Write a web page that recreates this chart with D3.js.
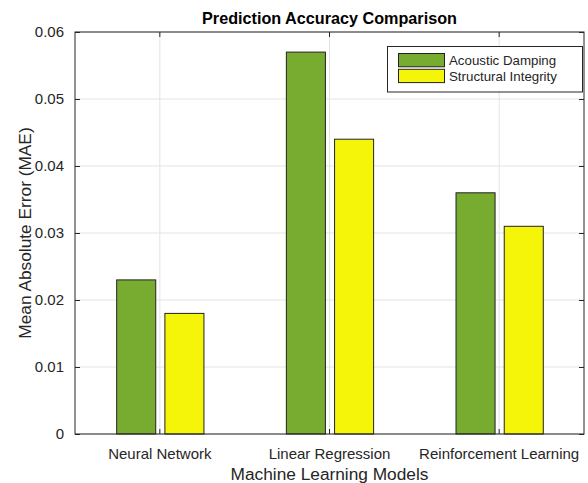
<!DOCTYPE html>
<html>
<head>
<meta charset="utf-8">
<script src="https://cdn.jsdelivr.net/npm/d3@7"></script>
<style>
  body { margin: 0; background: #fff; }
  text { font-family: "Liberation Sans", Arial, sans-serif; fill: #262626; }
</style>
</head>
<body>
<div id="chart"></div>
<script>
// data
const categories = ["Neural Network", "Linear Regression", "Reinforcement Learning"];
const seriesNames = ["Acoustic Damping", "Structural Integrity"];
const acousticDamping = [0.023, 0.057, 0.036];
const structuralIntegrity = [0.018, 0.044, 0.031];
const yTicks = [0, 0.01, 0.02, 0.03, 0.04, 0.05, 0.06];
const colors = ["#77ac30", "#f5f50a"];

const width = 588, height = 483;
const margin = { left: 75, right: 4, top: 32, bottom: 49 };
const innerW = width - margin.left - margin.right;
const innerH = height - margin.top - margin.bottom;

const svg = d3.select("#chart").append("svg")
  .attr("width", width)
  .attr("height", height);

svg.append("rect").attr("width", width).attr("height", height).attr("fill", "#fff");

const g = svg.append("g").attr("transform", `translate(${margin.left},${margin.top})`);

// scales
const x0 = d3.scaleBand().domain(categories).range([0, innerW]).padding(0);
const bw = x0.bandwidth();
const x1 = d3.scaleBand().domain(seriesNames)
  .range([bw * 0.2457, bw * 0.76]).paddingInner(0.19);
const y = d3.scaleLinear().domain([0, 0.06]).range([innerH, 0]);

// grid lines
g.append("g")
  .selectAll("line.hgrid")
  .data(yTicks)
  .enter().append("line")
  .attr("x1", 0).attr("x2", innerW)
  .attr("y1", d => y(d)).attr("y2", d => y(d))
  .attr("stroke", "#e3e3e3").attr("stroke-width", 1);

g.append("g")
  .selectAll("line.vgrid")
  .data(categories)
  .enter().append("line")
  .attr("x1", d => x0(d) + bw / 2).attr("x2", d => x0(d) + bw / 2)
  .attr("y1", 0).attr("y2", innerH)
  .attr("stroke", "#e3e3e3").attr("stroke-width", 1);

// bars
const rows = categories.map((c, i) => ({ cat: c, vals: [acousticDamping[i], structuralIntegrity[i]] }));

const groups = g.selectAll(".grp")
  .data(rows)
  .enter().append("g")
  .attr("transform", d => `translate(${x0(d.cat)},0)`);

groups.selectAll("rect")
  .data(d => d.vals.map((v, j) => ({ name: seriesNames[j], v: v, j: j })))
  .enter().append("rect")
  .attr("x", d => x1(d.name))
  .attr("width", x1.bandwidth())
  .attr("y", d => y(d.v))
  .attr("height", d => innerH - y(d.v))
  .attr("fill", d => colors[d.j])
  .attr("stroke", "#222")
  .attr("stroke-width", 1);

// axis box
g.append("rect")
  .attr("x", 0).attr("y", 0)
  .attr("width", innerW).attr("height", innerH)
  .attr("fill", "none")
  .attr("stroke", "#262626").attr("stroke-width", 1);

// y axis (ticks inside)
const yAxis = g.append("g")
  .call(d3.axisLeft(y).tickValues(yTicks).tickSizeInner(-5).tickSizeOuter(0)
    .tickPadding(11).tickFormat(d => d === 0 ? "0" : d3.format(".2f")(d)));
yAxis.select(".domain").remove();
yAxis.selectAll("line").attr("stroke", "#262626");
yAxis.selectAll("text").attr("font-size", "15px").attr("font-family", "Liberation Sans, Arial, sans-serif").attr("fill", "#262626");

// right ticks
const yAxisR = g.append("g").attr("transform", `translate(${innerW},0)`)
  .call(d3.axisRight(y).tickValues(yTicks).tickSizeInner(-5).tickSizeOuter(0).tickFormat(""));
yAxisR.select(".domain").remove();
yAxisR.selectAll("line").attr("stroke", "#262626");

// x axis
const xAxis = g.append("g").attr("transform", `translate(0,${innerH})`)
  .call(d3.axisBottom(x0).tickSizeInner(-5).tickSizeOuter(0).tickPadding(14));
xAxis.select(".domain").remove();
xAxis.selectAll("line").attr("stroke", "#262626");
xAxis.selectAll("text").attr("font-size", "15px").attr("font-family", "Liberation Sans, Arial, sans-serif").attr("fill", "#262626");

const xAxisTop = g.append("g")
  .call(d3.axisTop(x0).tickSizeInner(-5).tickSizeOuter(0).tickFormat(""));
xAxisTop.select(".domain").remove();
xAxisTop.selectAll("line").attr("stroke", "#262626");

// title
svg.append("text")
  .attr("x", margin.left + innerW / 2)
  .attr("y", 23.5)
  .attr("text-anchor", "middle")
  .attr("font-size", "16.2px")
  .attr("font-weight", "bold")
  .attr("fill", "#000")
  .style("fill", "#000")
  .text("Prediction Accuracy Comparison");

// axis labels
svg.append("text")
  .attr("x", margin.left + innerW / 2)
  .attr("y", 479.5)
  .attr("text-anchor", "middle")
  .attr("font-size", "17.3px")
  .text("Machine Learning Models");

svg.append("text")
  .attr("transform", `translate(31,${margin.top + innerH / 2}) rotate(-90)`)
  .attr("text-anchor", "middle")
  .attr("font-size", "17.3px")
  .text("Mean Absolute Error (MAE)");

// legend
const legend = svg.append("g").attr("transform", "translate(387.5,46.5)");
legend.append("rect")
  .attr("width", 195).attr("height", 45.5)
  .attr("fill", "#fff").attr("stroke", "#262626").attr("stroke-width", 1);

const items = legend.selectAll(".item")
  .data(seriesNames)
  .enter().append("g")
  .attr("transform", (d, i) => `translate(11,${7 + i * 15.8})`);

items.append("rect")
  .attr("width", 46).attr("height", 13.3)
  .attr("fill", (d, i) => colors[i])
  .attr("stroke", "#222").attr("stroke-width", 1);

items.append("text")
  .attr("x", 50.5)
  .attr("y", 11.3)
  .attr("font-size", "13.3px")
  .text(d => d);
</script>
</body>
</html>
